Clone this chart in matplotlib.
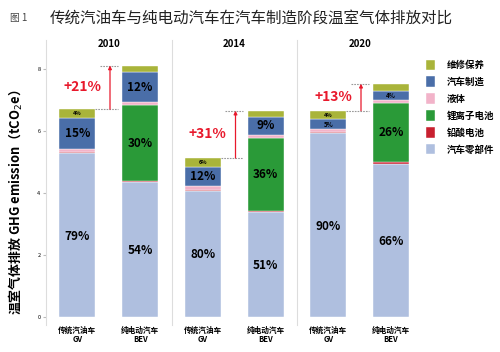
import numpy as np
import matplotlib.pyplot as plt

plt.rcParams['font.family'] = ['Noto Sans CJK SC', 'DejaVu Sans']

years = ['2010', '2014', '2020']
cars = ['传统汽油车\nGV', '纯电动汽车\nBEV']
layers = ['汽车零部件', '铅酸电池', '锂离子电池', '液体', '汽车制造', '维修保养']
colors = ['#afbfdf', '#c8202f', '#2a9a38', '#f2b3c9', '#4a6ea8', '#a9b43a']

# values in tCO2e, [GV, BEV] per year
parts = [[5.29, 4.37], [4.08, 3.39], [5.95, 4.95]]
lead_acid = [[0.03, 0.03], [0.03, 0.03], [0.03, 0.04]]
li_ion = [[0.0, 2.43], [0.0, 2.36], [0.0, 1.93]]
fluids = [[0.11, 0.10], [0.12, 0.10], [0.08, 0.08]]
manuf = [[1.00, 0.97], [0.60, 0.58], [0.32, 0.30]]
maint = [[0.28, 0.22], [0.30, 0.20], [0.28, 0.23]]

pct_parts = [['79%', '54%'], ['80%', '51%'], ['90%', '66%']]
pct_li = [['', '30%'], ['', '36%'], ['', '26%']]
pct_manuf = [['15%', '12%'], ['12%', '9%'], ['5%', '4%']]
pct_maint = [['4%', ''], ['6%', ''], ['4%', '']]
increase = ['+21%', '+31%', '+13%']

fig = plt.figure(figsize=(5, 3.52), dpi=100)
fig.text(0.02, 0.948, '图 1', fontsize=7, color='#444444', va='center')
fig.text(0.1, 0.948, '传统汽油车与纯电动汽车在汽车制造阶段温室气体排放对比',
         fontsize=11.2, va='center', color='#222222')

x = np.arange(2)
w = 0.57
for i, yr in enumerate(years):
    ax = fig.add_axes([0.092 + i * 0.251, 0.077, 0.251, 0.809])
    stack = [parts[i], lead_acid[i], li_ion[i], fluids[i], manuf[i], maint[i]]
    bottom = np.zeros(2)
    for vals, c, lab in zip(stack, colors, layers):
        ax.bar(x, vals, w, bottom=bottom, color=c, label=lab, edgecolor='white', linewidth=0.3)
        bottom += np.array(vals)
    tot = bottom
    for j in range(2):
        ax.text(x[j], parts[i][j] * 0.49, pct_parts[i][j], ha='center', va='center',
                fontsize=8.5, fontweight='bold')
        if pct_li[i][j]:
            b = parts[i][j] + lead_acid[i][j]
            ax.text(x[j], b + li_ion[i][j] / 2, pct_li[i][j], ha='center', va='center',
                    fontsize=8.5, fontweight='bold')
        b = tot[j] - maint[i][j] - manuf[i][j]
        fs = 8.5 if manuf[i][j] > 0.45 else 4.5
        ax.text(x[j], b + manuf[i][j] / 2, pct_manuf[i][j], ha='center', va='center',
                fontsize=fs, fontweight='bold')
        if pct_maint[i][j]:
            ax.text(x[j], tot[j] - maint[i][j] / 2, pct_maint[i][j], ha='center', va='center',
                    fontsize=4, fontweight='bold')
    # increase arrow
    ax.plot([0.285, 0.64], [tot[0], tot[0]], ls=(0, (1.5, 1)), color='#999999', lw=0.8)
    ax.plot([0.36, 0.64], [tot[1], tot[1]], ls=(0, (1.5, 1)), color='#999999', lw=0.8)
    ax.annotate('', xy=(0.52, tot[1]), xytext=(0.52, tot[0]),
                arrowprops=dict(arrowstyle='-|>', color='#e8192c', lw=0.9,
                                mutation_scale=5, shrinkA=0, shrinkB=0))
    ax.text(0.08, (tot[0] + tot[1]) / 2, increase[i], color='#e8192c',
            fontsize=10, fontweight='bold', ha='center', va='center')
    ax.text(0.5, 0.986, yr, transform=ax.transAxes, ha='center', va='center',
            fontsize=7, fontweight='bold')
    ax.set_xlim(-0.5, 1.5)
    ax.set_ylim(-0.26, 8.94)
    ax.set_xticks(x)
    ax.set_xticklabels(cars, fontsize=5.5, fontweight='bold', linespacing=0.9)
    ax.tick_params(axis='x', length=0, pad=1)
    for s in ['top', 'right', 'bottom']:
        ax.spines[s].set_visible(False)
    ax.spines['left'].set_color('#dddddd')
    if i == 0:
        ax.set_yticks([0, 2, 4, 6, 8])
        ax.tick_params(axis='y', labelsize=4, length=2, pad=2, color='#bbbbbb')
        ax.set_ylabel('温室气体排放 GHG emission（tCO$_2$e）', fontsize=9.3,
                      fontweight='bold')
        ax.yaxis.set_label_coords(-0.17, 0.43)
    else:
        ax.set_yticks([])
    if i == 2:
        h, l = ax.get_legend_handles_labels()
        fig.legend(h[::-1], l[::-1], loc='upper left', bbox_to_anchor=(0.835, 0.855),
                   frameon=False, handlelength=1.0, handleheight=1.3,
                   labelspacing=0.7, handletextpad=1.2,
                   prop={'weight': 'bold', 'size': 6.8})

plt.savefig('out.png', dpi=100)
